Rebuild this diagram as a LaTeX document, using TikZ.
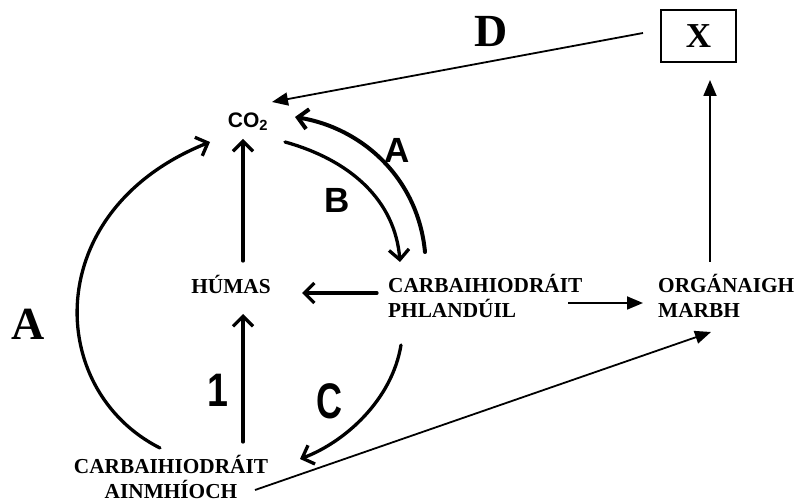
\documentclass[tikz,border=0pt]{standalone}
\usepackage{fontspec}
\setmainfont{Liberation Serif}
\newfontfamily\handfont{Liberation Sans}
\usetikzlibrary{arrows.meta}
\begin{document}
\begin{tikzpicture}[x=1pt,y=-1pt,
  lbl/.style={font=\bfseries\fontsize{21.3}{25}\selectfont, inner sep=0pt},
  bigserif/.style={font=\bfseries\fontsize{46}{46}\selectfont, inner sep=0pt},
  handlbl/.style={font=\handfont\bfseries\fontsize{35}{35}\selectfont, inner sep=0pt},
  thinarrow/.style={line width=1.8pt, -{Triangle[length=16pt,width=13pt]}},
  handarrow/.style={line width=3.3pt, line cap=round, -{Straight Barb[length=10pt,width=20pt]}},
]
\useasboundingbox (0,0) rectangle (798,502);
\fill[white] (0,0) rectangle (798,502);

% nodes
\node[draw, line width=1.8pt, minimum width=75pt, minimum height=52pt, inner sep=0pt,
      font=\bfseries\fontsize{35}{35}\selectfont] (X) at (698.5,36) {X};
\node[bigserif] (D) at (491,31) {D};
\node[bigserif] (Aleft) at (28,324) {A};
\node[font=\handfont\bfseries\fontsize{21}{21}\selectfont, inner sep=0pt] (co2) at (248,122) {CO\textsubscript{2}};
\node[lbl, anchor=base] (humas) at (231,294) {HÚMAS};
\node[lbl, anchor=base west, align=left] (phl) at (388,318) {CARBAIHIODRÁIT\\PHLANDÚIL};
\node[lbl, anchor=base west, align=left] (org) at (658,318) {ORGÁNAIGH\\MARBH};
\node[lbl, anchor=base, align=center] (ainm) at (171,498) {CARBAIHIODRÁIT\\AINMHÍOCH};
\node[handlbl] (Aright) at (397,150) {A};
\node[handlbl] (B) at (337,200) {B};
\node[font=\handfont\bfseries\fontsize{50}{50}\selectfont, inner sep=0pt, xscale=0.72] (C) at (329,401) {C};
\node[font=\handfont\bfseries\fontsize{47}{47}\selectfont, inner sep=0pt, xscale=0.8] (one) at (218,390) {1};

% connector ends
\coordinate (dStart) at (643,33);
\coordinate (dTip) at (272,102);
\coordinate (orgUp) at (710,262);
\coordinate (xUnder) at (710,80);
\coordinate (phlRight) at (568,303);
\coordinate (orgLeft) at (643,303);
\coordinate (ainmRight) at (255,490);
\coordinate (orgBelow) at (711,332);
\coordinate (humasTop) at (243,261);
\coordinate (co2Below) at (243,139);
\coordinate (ainmTop) at (243,442);
\coordinate (humasBelow) at (243,314);
\coordinate (phlLeft) at (377,293);
\coordinate (humasRight) at (302,293);
\coordinate (bStart) at (285,142);
\coordinate (bTip) at (400,262);
\coordinate (aStart) at (425,252);
\coordinate (aTip) at (295,117);
\coordinate (alStart) at (160,448);
\coordinate (alTip) at (210,142);
\coordinate (cStart) at (401,345);
\coordinate (cTip) at (300,459);

% printed connectors
\draw[thinarrow] (dStart) -- (dTip);
\draw[thinarrow] (orgUp) -- (xUnder);
\draw[thinarrow] (phlRight) -- (orgLeft);
\draw[thinarrow] (ainmRight) -- (orgBelow);

% hand-drawn connectors
\draw[handarrow] (humasTop) -- (co2Below);
\draw[handarrow] (ainmTop) -- (humasBelow);
\draw[handarrow] (phlLeft) -- (humasRight);
\draw[handarrow] (bStart) .. controls (350,160) and (395,200) .. (bTip);
\draw[handarrow, line width=4pt] (aStart) .. controls (418,178) and (362,128) .. (aTip);
\draw[handarrow] (alStart) .. controls (45,390) and (40,210) .. (alTip);
\draw[handarrow] (cStart) .. controls (392,400) and (345,442) .. (cTip);
\end{tikzpicture}
\end{document}
